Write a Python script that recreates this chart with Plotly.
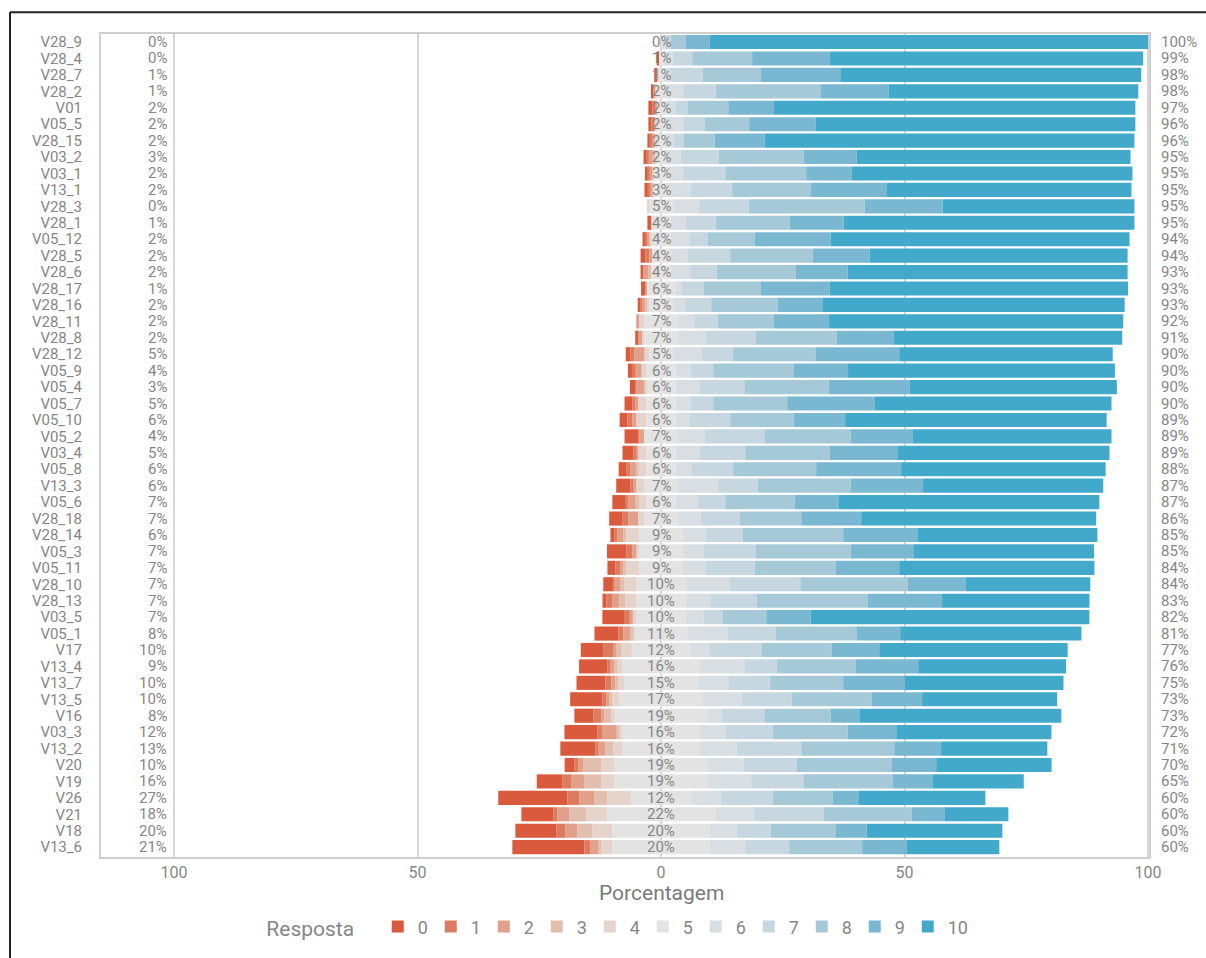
import plotly.graph_objects as go

items = ["V28_9", "V28_4", "V28_7", "V28_2", "V01", "V05_5", "V28_15", "V03_2", "V03_1", "V13_1",
         "V28_3", "V28_1", "V05_12", "V28_5", "V28_6", "V28_17", "V28_16", "V28_11", "V28_8", "V28_12",
         "V05_9", "V05_4", "V05_7", "V05_10", "V05_2", "V03_4", "V05_8", "V13_3", "V05_6", "V28_18",
         "V28_14", "V05_3", "V05_11", "V28_10", "V28_13", "V03_5", "V05_1", "V17", "V13_4", "V13_7",
         "V13_5", "V16", "V03_3", "V13_2", "V20", "V19", "V26", "V21", "V18", "V13_6"]

r0 = [0, 0.4, 0.6, 0.3, 0.8, 0.6, 0.5, 0.4, 0.3, 0.7,
      0, 0.8, 0.5, 1.0, 0.55, 0.8, 0.5, 0, 0.4, 1.0,
      1.0, 1.2, 1.6, 1.6, 2.9, 2.26, 1.64, 2.9, 2.6, 2.67,
      0.82, 4.0, 1.64, 1.9, 0.82, 4.6, 4.9, 4.7, 5.8, 5.95,
      6.6, 3.9, 6.8, 7.2, 2.05, 5.3, 14.2, 6.6, 8.4, 14.8]
r1 = [0, 0, 0, 0, 0.6, 0.4, 0.3, 0.7, 0.6, 0.4,
      0, 0, 0.4, 0.8, 0, 0, 0.5, 0, 0, 0.8,
      0.6, 0, 0.6, 1.0, 0, 0.4, 0.8, 0.4, 0.6, 1.23,
      0.62, 1.23, 1.03, 0.2, 1.23, 1.03, 1.03, 2.05, 0.4, 1.23,
      0.82, 1.64, 1.03, 0.4, 0.82, 1.85, 2.46, 0.82, 1.85, 1.23]
r2 = [0, 0, 0, 0.3, 0.2, 0.3, 0.4, 0.8, 0.5, 0.4,
      0, 0, 0.3, 0.4, 1.1, 0.3, 0.5, 0.4, 1.0, 2.05,
      1.2, 1.6, 0.6, 0.8, 1.1, 0.6, 1.2, 0.8, 1.6, 2.05,
      1.23, 0.82, 0.62, 1.44, 1.44, 0.62, 1.44, 0.4, 1.03, 0.82,
      0.62, 0.62, 2.9, 1.64, 1.03, 2.67, 3.1, 2.46, 2.46, 1.64]
r3 = [0, 0, 0, 0, 0, 0, 0.3, 0.4, 0, 0.2,
      0, 0, 0.3, 0, 0.55, 0, 0.4, 0, 0, 0,
      0, 0.3, 0, 0, 0, 0, 0.5, 0, 0.8, 0,
      0.62, 0, 0.62, 0.82, 1.23, 0, 0.4, 1.23, 0.4, 0.4,
      0.62, 1.44, 0.4, 1.64, 3.7, 3.5, 2.67, 3.5, 3.1, 0.4]
r4 = [0, 0, 0.3, 0.4, 0, 0.3, 0.3, 0.3, 0.3, 0.2,
      0.3, 0, 0.3, 0, 0, 0, 0.4, 1.2, 0.4, 0.9,
      1.0, 0.3, 1.7, 2.1, 0, 1.65, 1.56, 1.6, 1.4, 1.2,
      2.6, 0.55, 2.6, 2.5, 2.3, 0.8, 0.4, 2.1, 1.2, 1.46,
      1.5, 0.7, 0.7, 1.8, 2.7, 2.7, 4.8, 4.3, 4.1, 2.46]
r5 = [0, 1, 1, 2, 2, 2, 2, 2, 3, 3,
      5, 4, 4, 4, 4, 6, 5, 7, 7, 5,
      6, 6, 6, 6, 7, 6, 6, 7, 6, 7,
      9, 9, 9, 10, 10, 10, 11, 12, 16, 15,
      17, 19, 16, 16, 19, 19, 12.4, 22, 20, 20]
r6 = [1, 2, 1.5, 3.4, 1.9, 3.4, 1.6, 3.0, 2.9, 4.5,
      5.2, 3.0, 3.8, 3.4, 4.0, 1.2, 2.3, 3.3, 5.6, 5.8,
      3.0, 4.9, 3.0, 2.8, 5.4, 4.9, 3.2, 8.1, 4.5, 4.6,
      4.6, 4.2, 4.6, 9.0, 5.1, 3.7, 8.1, 3.9, 9.1, 6.3,
      8.0, 2.9, 5.2, 7.5, 7.4, 9.0, 6.0, 8.0, 5.5, 7.3]
r7 = [1, 3.9, 6.5, 6.8, 2.5, 4.5, 2.0, 7.8, 8.8, 8.6,
      10.3, 6.2, 3.7, 8.8, 5.4, 4.5, 5.5, 4.9, 10.3, 6.4,
      4.7, 9.2, 4.7, 8.4, 12.3, 9.4, 8.6, 8.2, 5.7, 8.0,
      7.6, 10.7, 10.1, 14.6, 9.5, 3.9, 9.9, 10.7, 6.6, 8.6,
      10.3, 8.8, 9.7, 13.3, 10.9, 10.7, 10.7, 14.4, 7.0, 9.0]
r8 = [3, 12.3, 11.9, 21.5, 8.4, 9.2, 6.4, 17.5, 16.6, 16.2,
      23.8, 15.2, 9.7, 16.9, 16.2, 11.7, 13.6, 11.5, 16.6, 17.0,
      16.6, 17.3, 15.2, 13.0, 17.7, 17.3, 17.05, 19.1, 14.2, 12.7,
      20.7, 19.5, 16.6, 22.1, 22.8, 9.0, 16.6, 14.4, 16.2, 15.0,
      16.4, 13.6, 15.4, 19.1, 19.5, 18.3, 12.3, 18.1, 13.3, 15.0]
r9 = [5, 16, 16.4, 14, 9.4, 13.6, 10.3, 10.9, 9.3, 15.6,
      16.0, 11.1, 15.6, 11.7, 10.7, 14.2, 9.2, 11.3, 11.7, 17.2,
      11.1, 16.6, 17.9, 10.6, 12.7, 13.9, 17.45, 14.9, 9.0, 12.3,
      15.2, 12.9, 13.1, 11.9, 15.3, 9.1, 9.0, 9.8, 12.9, 12.6,
      10.4, 5.9, 10.0, 9.6, 9.2, 8.2, 5.3, 6.8, 6.4, 9.2]
r10 = [90, 64.3, 61.8, 51.3, 74.2, 65.7, 75.9, 56.2, 57.7, 50.2,
       39.4, 59.7, 61.4, 53.0, 57.5, 61.3, 62.1, 60.4, 47.0, 43.85,
       54.8, 42.6, 48.7, 53.7, 40.9, 43.59, 42.0, 37.0, 53.6, 48.25,
       37.0, 37.1, 40.09, 25.54, 30.28, 57.25, 37.23, 38.7, 30.37, 32.64,
       27.74, 41.5, 31.87, 21.82, 23.7, 18.78, 26.1, 13.02, 27.89, 18.97]

left_lbl = ["0%", "0%", "1%", "1%", "2%", "2%", "2%", "3%", "2%", "2%",
            "0%", "1%", "2%", "2%", "2%", "1%", "2%", "2%", "2%", "5%",
            "4%", "3%", "5%", "6%", "4%", "5%", "6%", "6%", "7%", "7%",
            "6%", "7%", "7%", "7%", "7%", "7%", "8%", "10%", "9%", "10%",
            "10%", "8%", "12%", "13%", "10%", "16%", "27%", "18%", "20%", "21%"]
mid_lbl = ["0%", "1%", "1%", "2%", "2%", "2%", "2%", "2%", "3%", "3%",
           "5%", "4%", "4%", "4%", "4%", "6%", "5%", "7%", "7%", "5%",
           "6%", "6%", "6%", "6%", "7%", "6%", "6%", "7%", "6%", "7%",
           "9%", "9%", "9%", "10%", "10%", "10%", "11%", "12%", "16%", "15%",
           "17%", "19%", "16%", "16%", "19%", "19%", "12%", "22%", "20%", "20%"]
right_lbl = ["100%", "99%", "98%", "98%", "97%", "96%", "96%", "95%", "95%", "95%",
             "95%", "95%", "94%", "94%", "93%", "93%", "93%", "92%", "91%", "90%",
             "90%", "90%", "90%", "89%", "89%", "89%", "88%", "87%", "87%", "86%",
             "85%", "85%", "84%", "84%", "83%", "82%", "81%", "77%", "76%", "75%",
             "73%", "73%", "72%", "71%", "70%", "65%", "60%", "60%", "60%", "60%"]

responses = ["0", "1", "2", "3", "4", "5", "6", "7", "8", "9", "10"]
colors = ["#D95A3C", "#DC7B5E", "#E0A089", "#E2BEAF", "#E5D4CC", "#E3E3E3",
          "#D8DEE1", "#C6D7DF", "#A6C9D8", "#7AB8D1", "#43A9CA"]

R = [r0, r1, r2, r3, r4, r5, r6, r7, r8, r9, r10]

FONT = "Roboto, Liberation Sans, sans-serif"
GRAY = "#868686"
FS = 15

fig = go.Figure()

# negative side: half of neutral nearest zero, then 4..0 outward
fig.add_trace(go.Bar(y=items, x=[-v / 2 for v in r5], orientation="h", name="5",
                     legendgroup="5", showlegend=False, marker=dict(color=colors[5], line_width=0)))
for k in [4, 3, 2, 1, 0]:
    fig.add_trace(go.Bar(y=items, x=[-v for v in R[k]], orientation="h", name=responses[k],
                         legendgroup=responses[k], legendrank=k,
                         marker=dict(color=colors[k], line_width=0)))
# positive side
fig.add_trace(go.Bar(y=items, x=[v / 2 for v in r5], orientation="h", name="5",
                     legendgroup="5", legendrank=5, marker=dict(color=colors[5], line_width=0)))
for k in [6, 7, 8, 9, 10]:
    fig.add_trace(go.Bar(y=items, x=R[k], orientation="h", name=responses[k],
                         legendgroup=responses[k], legendrank=k,
                         legendwidth=(24 if k == 10 else None),
                         marker=dict(color=colors[k], line_width=0)))

lfont = dict(family=FONT, size=FS, color=GRAY)
annotations = []
for i, it in enumerate(items):
    annotations.append(dict(x=-101.0, y=it, xref="x", yref="y", text=left_lbl[i], showarrow=False,
                            xanchor="right", yanchor="middle", font=lfont))
    annotations.append(dict(x=0, y=it, xref="x", yref="y", text=mid_lbl[i], showarrow=False,
                            xanchor="center", yanchor="middle", font=lfont))
    annotations.append(dict(x=1.0, y=it, xref="paper", yref="y", text=right_lbl[i], showarrow=False,
                            xanchor="left", yanchor="middle", xshift=9, font=lfont))
annotations.append(dict(x=0, y=-0.043, xref="x", yref="paper", text="Porcentagem", showarrow=False,
                        xanchor="center", yanchor="middle",
                        font=dict(family=FONT, size=21, color="#7a7a7a")))

shapes = [
    dict(type="rect", xref="paper", yref="paper", x0=0, y0=0, x1=1, y1=1,
         line=dict(color="#cfcfcf", width=2), layer="above"),
    dict(type="line", xref="paper", yref="paper", x0=-0.0857, x1=1.06, y0=1.0253, y1=1.0253,
         line=dict(color="#222222", width=2)),
    dict(type="line", xref="paper", yref="paper", x0=-0.0857, x1=-0.0857, y0=1.0253, y1=-0.13,
         line=dict(color="#222222", width=2)),
]

fig.update_layout(
    width=1206, height=958,
    margin=dict(l=100, r=56, t=33, b=96),
    barmode="relative", bargap=0.14,
    paper_bgcolor="white", plot_bgcolor="white",
    font=dict(family=FONT, size=FS, color=GRAY),
    xaxis=dict(range=[-115.2, 100.4], tickvals=[-100, -50, 0, 50, 100],
               ticktext=["100", "50", "0", "50", "100"], showgrid=True, gridcolor="#d6d6d6",
               gridwidth=2, zeroline=False, showline=False, ticks="", ticklabelstandoff=3,
               tickfont=dict(family=FONT, size=16, color=GRAY)),
    yaxis=dict(categoryorder="array", categoryarray=items[::-1], range=[-0.66, 49.55],
               tickmode="array", tickvals=items, ticktext=items,
               showgrid=False, zeroline=False, ticks="", ticklabelstandoff=17,
               tickfont=dict(family=FONT, size=FS, color=GRAY)),
    legend=dict(orientation="h", x=0.496, xanchor="center", y=-0.084, yanchor="middle",
                title=dict(text="Resposta   ", side="left",
                           font=dict(family=FONT, size=21, color=GRAY)),
                font=dict(family=FONT, size=18, color=GRAY), traceorder="normal",
                entrywidth=8, itemclick=False),
    annotations=annotations,
    shapes=shapes,
    showlegend=True,
)

fig.write_html("out.html", config={"displayModeBar": False},
               post_script="document.body.style.margin='0';document.body.style.overflow='hidden';")
